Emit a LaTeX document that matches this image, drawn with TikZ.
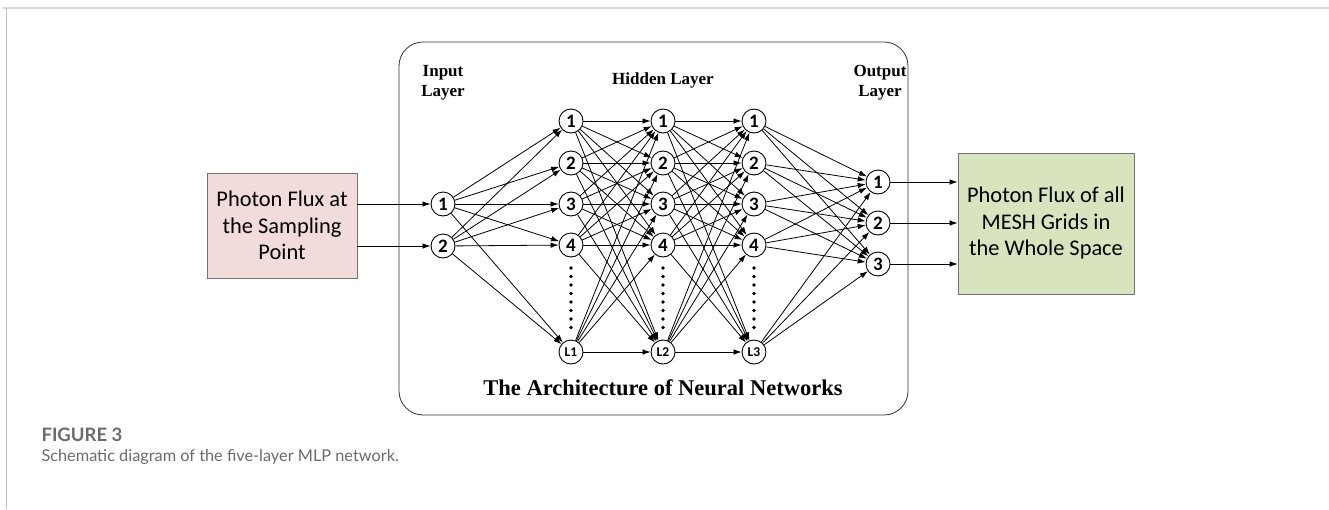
\documentclass[tikz,border=0pt]{standalone}
\usepackage{fontspec}
\usepackage{xcolor}
\usetikzlibrary{arrows.meta}
\setmainfont{Liberation Serif}
\newfontfamily\calibri{Carlito}
\newfontfamily\capfont{Lato}
\definecolor{srcfill}{HTML}{F2DCDB}
\definecolor{dstfill}{HTML}{D7E4BD}
\definecolor{framegray}{HTML}{D9D9D9}
\definecolor{capgray}{HTML}{6B6B6B}

\tikzset{
  neuron/.style={draw,circle,line width=0.9pt,minimum size=24pt,inner sep=0pt,fill=white,
    font=\calibri\bfseries\fontsize{19}{19}\selectfont},
  small/.style={font=\calibri\bfseries\fontsize{13.5}{13.5}\selectfont},
  link/.style={-{Latex[length=8pt,width=5.5pt]},line width=0.8pt},
  layertitle/.style={align=center,font=\bfseries\fontsize{17}{20}\selectfont},
  iobox/.style={draw=black!55,line width=0.8pt,align=center,
    font=\calibri\fontsize{22.4}{26.5}\selectfont}
}

\begin{document}
\begin{tikzpicture}[x=1pt,y=-1pt]
  \useasboundingbox (0,0) rectangle (1329,509);
  % page frame
  \draw[framegray,line width=2pt] (3,8) -- (1329,8);
  \draw[black!25,line width=0.8pt] (6,8) -- (6,509);
  % the network panel
  \draw[line width=0.8pt,black!80,rounded corners=24pt] (399,42) rectangle (908,415);
  \node[layertitle] (tin) at (443,83) {Input\\Layer};
  \node[layertitle] (thid) at (663,80) {Hidden Layer};
  \node[layertitle] (tout) at (880,83) {Output\\Layer};
  \node[font=\bfseries\fontsize{22.5}{24}\selectfont] (title) at (663,388) {The Architecture of Neural Networks};
  % input layer
  \node[neuron] (i1) at (443,204) {1};
  \node[neuron] (i2) at (443,246) {2};
  % hidden layers a, b, c
  \foreach \c/\x/\l in {a/571/L1,b/663/L2,c/754/L3} {
    \foreach \n/\y in {1/121,2/163,3/204,4/245}
      \node[neuron] (\c\n) at (\x,\y) {\n};
    \node[neuron,small] (\c5) at (\x,352) {\l};
    \foreach \y in {268,276.5,...,330} \fill (\x,\y) circle (1.8pt);
  }
  % output layer
  \node[neuron] (o1) at (878,182) {1};
  \node[neuron] (o2) at (878,223) {2};
  \node[neuron] (o3) at (878,264) {3};
  % full connections
  \foreach \s in {1,2} \foreach \t in {1,...,5} \draw[link] (i\s) -- (a\t);
  \foreach \s in {1,...,5} \foreach \t in {1,...,5} {
    \draw[link] (a\s) -- (b\t);
    \draw[link] (b\s) -- (c\t);
  }
  \foreach \s in {1,...,5} \foreach \t in {1,2,3} \draw[link] (c\s) -- (o\t);
  % source and target boxes
  \node[iobox,fill=srcfill,minimum width=150pt,minimum height=105pt] (src) at (282,225.5)
    {Photon Flux at\\the Sampling\\Point};
  \node[iobox,fill=dstfill,minimum width=176pt,minimum height=141pt] (dst) at (1046,223.5)
    {Photon Flux of all\\MESH Grids in\\the Whole Space};
  \draw[link] (src.east |- i1) -- (i1);
  \draw[link] (src.east |- i2) -- (i2);
  \foreach \t in {1,2,3} \draw[link] (o\t) -- (o\t -| dst.west);
  % caption
  \node[anchor=west,capgray,font=\capfont\bfseries\fontsize{18.5}{20}\selectfont] (fig) at (38,435) {FIGURE 3};
  \node[anchor=west,capgray,font=\capfont\fontsize{16.3}{18}\selectfont] (cap) at (38,457)
    {Schematic diagram of the five-layer MLP network.};
\end{tikzpicture}
\end{document}
